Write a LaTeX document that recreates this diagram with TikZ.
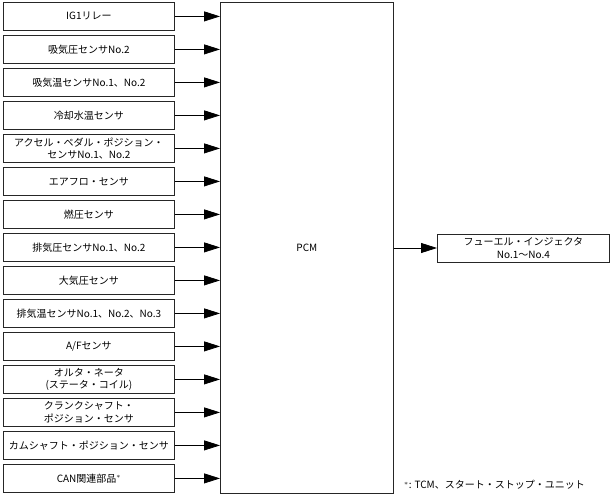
\documentclass[tikz,border=0pt]{standalone}
\usepackage{fontspec}
\setmainfont{Noto Sans CJK JP}
\usetikzlibrary{arrows.meta}
\begin{document}
\begin{tikzpicture}[x=1pt,y=1pt,
  txt/.style={font=\fontsize{10}{12.5}\selectfont},
  box/.style={draw=black!85,line width=0.8pt,fill=white,minimum width=171pt,minimum height=28pt,
    inner sep=1pt,align=center,txt,anchor=north west},
  conn/.style={draw=black,line width=0.8pt,-{Triangle[length=16pt,width=10pt]}}]
\useasboundingbox (0,0) rectangle (611,-497);
\node[draw=black!85,line width=0.8pt,minimum width=173pt,minimum height=491pt,anchor=north west,
  txt] (pcm) at (220,-2) {PCM};
\foreach \t [count=\i] in {
  {IG1リレー},
  {吸気圧センサNo.2},
  {吸気温センサNo.1、No.2},
  {冷却水温センサ},
  {アクセル・ペダル・ポジション・\\センサNo.1、No.2},
  {エアフロ・センサ},
  {燃圧センサ},
  {排気圧センサNo.1、No.2},
  {大気圧センサ},
  {排気温センサNo.1、No.2、No.3},
  {A/Fセンサ},
  {オルタ・ネータ\\(ステータ・コイル)},
  {クランクシャフト・\\ポジション・センサ},
  {カムシャフト・ポジション・センサ},
  {CAN関連部品$^{*}$}} {
  \node[box] (b\i) at (3,{-2-33*(\i-1)}) {\t};
  \draw[conn] (b\i.east) -- (pcm.west |- b\i.east);
}
\node[box,minimum width=172pt,anchor=west] (out) at (437,-248) {フューエル・インジェクタ\\No.1～No.4};
\draw[conn] (pcm.east |- out.west) -- (out.west);
\node[anchor=west,txt,inner sep=0pt] (note) at (404,-485) {$^{*}$: TCM、スタート・ストップ・ユニット};
\end{tikzpicture}
\end{document}
